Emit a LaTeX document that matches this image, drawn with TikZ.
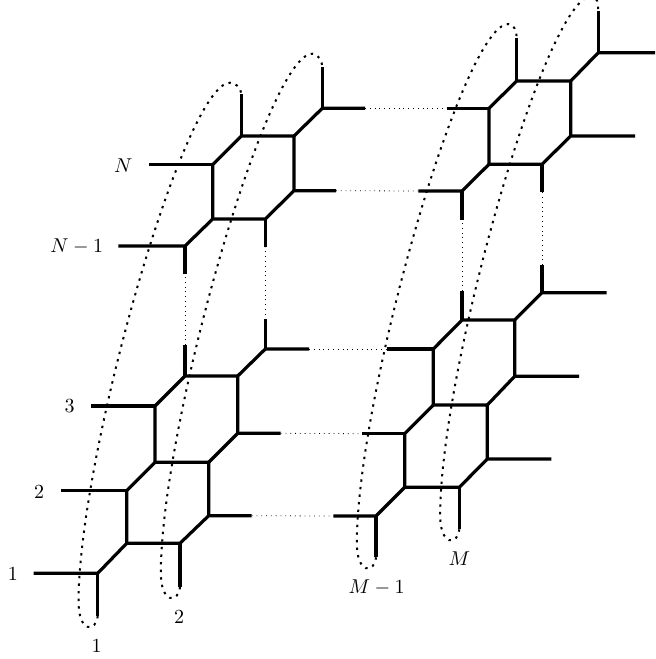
\documentclass[tikz,border=0pt]{standalone}
\usepackage{tikz}
\tikzset{
  hexline/.style={draw=black,line width=1.6pt,line join=round},
  gapline/.style={draw=black,line width=0.4pt,dotted},
  loopline/.style={draw=black,line width=1pt,dash pattern=on 1.2pt off 2.6pt},
  lab/.style={inner sep=0pt,text=black}
}
\begin{document}
\begin{tikzpicture}[x=0.5pt,y=-0.5pt]
\useasboundingbox (0,0) rectangle (655,659);
% lower left block
\coordinate (bl1) at (97.7,573.3);
\coordinate (bl2) at (126.7,543.3);
\coordinate (bl3) at (180,543.3);
\coordinate (bl4) at (208.7,515.7);
\coordinate (bl5) at (126.7,490.7);
\coordinate (bl6) at (155,462.3);
\coordinate (bl7) at (208.7,462.3);
\coordinate (bl8) at (237.7,433.3);
\coordinate (bl9) at (155,406);
\coordinate (bl10) at (185,376);
\coordinate (bl11) at (237.7,376);
\coordinate (bl12) at (265.3,349);
\coordinate (bl1w) at (33.7,573.3);
\coordinate (bl1s) at (97.7,616);
\coordinate (bl3s) at (180,587);
\coordinate (bl4e) at (251.7,515.7);
\coordinate (bl5w) at (61.3,490.7);
\coordinate (bl8e) at (280.7,433.3);
\coordinate (bl9w) at (91,406);
\coordinate (bl10n) at (185,345);
\coordinate (bl12n) at (265.3,319.3);
\coordinate (bl12e) at (309,349);
% upper left block
\coordinate (tl1) at (185,246);
\coordinate (tl2) at (212.7,219);
\coordinate (tl3) at (265.3,219);
\coordinate (tl4) at (294,190.7);
\coordinate (tl5) at (212.7,164.7);
\coordinate (tl6) at (241.3,136);
\coordinate (tl7) at (294,136);
\coordinate (tl8) at (322.3,108.3);
\coordinate (tl1w) at (118.3,246);
\coordinate (tl1s) at (185,274.3);
\coordinate (tl3s) at (265.3,247.3);
\coordinate (tl4e) at (336,190.7);
\coordinate (tl5w) at (149.3,164.7);
\coordinate (tl6n) at (241.3,94.3);
\coordinate (tl8n) at (322.3,67.3);
\coordinate (tl8e) at (365,108.3);
% lower right block
\coordinate (br1) at (376,516);
\coordinate (br2) at (404.7,487.3);
\coordinate (br3) at (459.3,487.3);
\coordinate (br4) at (487.3,459);
\coordinate (br5) at (404.7,433.7);
\coordinate (br6) at (433.3,405);
\coordinate (br7) at (487.3,405);
\coordinate (br8) at (514.7,376.3);
\coordinate (br9) at (433.3,349);
\coordinate (br10) at (462,320);
\coordinate (br11) at (514.7,320);
\coordinate (br12) at (542,292.7);
\coordinate (br1w) at (333.3,516);
\coordinate (br1s) at (376,557.3);
\coordinate (br3s) at (459.3,529.3);
\coordinate (br4e) at (551.3,459);
\coordinate (br5w) at (362.3,433.7);
\coordinate (br8e) at (579,376.3);
\coordinate (br9w) at (386.7,349);
\coordinate (br10n) at (462,291);
\coordinate (br12n) at (542,265);
\coordinate (br12e) at (606.7,292.7);
% upper right block
\coordinate (tr1) at (462,191);
\coordinate (tr2) at (489,164.3);
\coordinate (tr3) at (542,164.3);
\coordinate (tr4) at (570.7,136);
\coordinate (tr5) at (489,108.3);
\coordinate (tr6) at (516.7,81);
\coordinate (tr7) at (570.7,81);
\coordinate (tr8) at (598.3,52.7);
\coordinate (tr1w) at (418.3,191);
\coordinate (tr1s) at (462,220);
\coordinate (tr3s) at (542,192.3);
\coordinate (tr4e) at (635,136);
\coordinate (tr5w) at (446.7,108.3);
\coordinate (tr6n) at (516.7,37.7);
\coordinate (tr8n) at (598.3,10.7);
\coordinate (tr8e) at (655,52.7);
% thick lines
\draw[hexline] (bl1w) -- (bl1) -- (bl2) -- (bl3) -- (bl4) -- (bl4e);
\draw[hexline] (bl1s) -- (bl1);
\draw[hexline] (bl3s) -- (bl3);
\draw[hexline] (bl2) -- (bl5) -- (bl6) -- (bl7) -- (bl4);
\draw[hexline] (bl5w) -- (bl5);
\draw[hexline] (bl7) -- (bl8) -- (bl8e);
\draw[hexline] (bl6) -- (bl9) -- (bl10) -- (bl11) -- (bl8);
\draw[hexline] (bl9w) -- (bl9);
\draw[hexline] (bl10n) -- (bl10);
\draw[hexline] (bl11) -- (bl12) -- (bl12e);
\draw[hexline] (bl12n) -- (bl12);
\draw[hexline] (tl1w) -- (tl1) -- (tl2) -- (tl3) -- (tl4) -- (tl4e);
\draw[hexline] (tl1s) -- (tl1);
\draw[hexline] (tl3s) -- (tl3);
\draw[hexline] (tl2) -- (tl5) -- (tl6) -- (tl7) -- (tl4);
\draw[hexline] (tl5w) -- (tl5);
\draw[hexline] (tl6n) -- (tl6);
\draw[hexline] (tl7) -- (tl8) -- (tl8e);
\draw[hexline] (tl8n) -- (tl8);
\draw[hexline] (br1w) -- (br1) -- (br2) -- (br3) -- (br4) -- (br4e);
\draw[hexline] (br1s) -- (br1);
\draw[hexline] (br3s) -- (br3);
\draw[hexline] (br2) -- (br5) -- (br6) -- (br7) -- (br4);
\draw[hexline] (br5w) -- (br5);
\draw[hexline] (br7) -- (br8) -- (br8e);
\draw[hexline] (br6) -- (br9) -- (br10) -- (br11) -- (br8);
\draw[hexline] (br9w) -- (br9);
\draw[hexline] (br10n) -- (br10);
\draw[hexline] (br11) -- (br12) -- (br12e);
\draw[hexline] (br12n) -- (br12);
\draw[hexline] (tr1w) -- (tr1) -- (tr2) -- (tr3) -- (tr4) -- (tr4e);
\draw[hexline] (tr1s) -- (tr1);
\draw[hexline] (tr3s) -- (tr3);
\draw[hexline] (tr2) -- (tr5) -- (tr6) -- (tr7) -- (tr4);
\draw[hexline] (tr5w) -- (tr5);
\draw[hexline] (tr6n) -- (tr6);
\draw[hexline] (tr7) -- (tr8) -- (tr8e);
\draw[hexline] (tr8n) -- (tr8);
% thin dotted links
\draw[gapline] (bl4e) -- (br1w);
\draw[gapline] (bl8e) -- (br5w);
\draw[gapline] (bl12e) -- (br9w);
\draw[gapline] (tl4e) -- (tr1w);
\draw[gapline] (tl8e) -- (tr5w);
\draw[gapline] (bl10n) -- (tl1s);
\draw[gapline] (bl12n) -- (tl3s);
\draw[gapline] (br10n) -- (tr1s);
\draw[gapline] (br12n) -- (tr3s);
% loops
\draw[loopline] (bl1s) .. controls +(-1.2,16) and +(-0.5,34) .. ++(-19.2,-16) .. controls +(1.5,-150) and +(-45,0) .. ++(151.5,-517.3) .. controls +(6,0) and +(0,-6) .. (tl6n);
\draw[loopline] (bl3s) .. controls +(-1.2,16) and +(-0.5,34) .. ++(-19.2,-16) .. controls +(1.5,-150) and +(-45,0) .. ++(151.5,-517.3) .. controls +(6,0) and +(0,-6) .. (tl8n);
\draw[loopline] (br1s) .. controls +(-1.2,16) and +(-0.5,34) .. ++(-19.2,-16) .. controls +(1.5,-150) and +(-45,0) .. ++(151.5,-517.3) .. controls +(6,0) and +(0,-6) .. (tr6n);
\draw[loopline] (br3s) .. controls +(-1.2,16) and +(-0.5,34) .. ++(-19.2,-16) .. controls +(1.5,-150) and +(-45,0) .. ++(151.5,-517.3) .. controls +(6,0) and +(0,-6) .. (tr8n);
% labels
\node[lab] (row1) at (13,574) {$1$};
\node[lab] (row2) at (39,492) {$2$};
\node[lab] (row3) at (69.7,406) {$3$};
\node[lab] (rowN) at (123.3,165.7) {$N$};
\node[lab] (rowNm) at (76.7,246.7) {$N-1$};
\node[lab] (col1) at (96.7,645.7) {$1$};
\node[lab] (col2) at (179,617.3) {$2$};
\node[lab] (colMm) at (376.7,587.3) {$M-1$};
\node[lab] (colM) at (459.3,558.3) {$M$};
\end{tikzpicture}
\end{document}
